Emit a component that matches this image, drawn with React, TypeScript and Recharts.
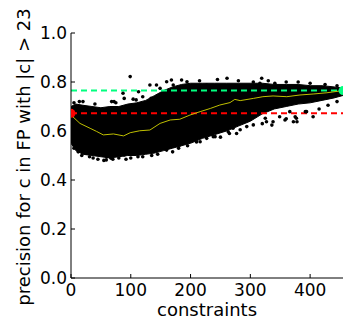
import React from 'react';
import { ComposedChart, Area, Line, Scatter, XAxis, YAxis, ReferenceLine } from 'recharts';

// axis ticks
const xTicks = [0, 100, 200, 300, 400];
const yTicks = [0, 0.2, 0.4, 0.6, 0.8, 1.0];

// dense cloud of points: lower / upper envelope per constraint count
const bandX = [0, 8, 20, 35, 50, 65, 80, 95, 110, 125, 140, 155, 170, 185, 200, 220, 240, 260, 280, 300, 320, 340, 360, 380, 400, 420, 440, 455];
const bandLow = [0.55, 0.52, 0.505, 0.5, 0.495, 0.49, 0.495, 0.5, 0.5, 0.505, 0.51, 0.52, 0.53, 0.54, 0.55, 0.57, 0.585, 0.6, 0.62, 0.64, 0.67, 0.69, 0.7, 0.71, 0.715, 0.725, 0.735, 0.745];
const bandHigh = [0.7, 0.71, 0.705, 0.7, 0.695, 0.7, 0.7, 0.71, 0.715, 0.725, 0.745, 0.765, 0.78, 0.79, 0.795, 0.795, 0.795, 0.795, 0.795, 0.795, 0.795, 0.79, 0.79, 0.79, 0.785, 0.785, 0.78, 0.775];

// scattered points outside the dense cloud
const dotX = [5, 12, 18, 26, 37, 45, 55, 60, 70, 80, 92, 100, 110, 120, 135, 145, 160, 170, 180, 195, 210, 227, 241, 250, 265, 271, 283, 294, 305, 320, 327, 336, 338, 349, 360, 372, 377, 394, 405, 415, 430, 445,
  5, 20, 40, 68, 75, 87, 99, 104, 113, 120, 132, 143, 149, 160, 168, 185, 194, 215, 227, 245, 261, 280, 305, 319, 330, 341, 360, 380, 400, 425, 445,
  31, 59, 67, 89, 112, 159, 14, 72, 89, 109, 134, 153, 171, 182, 216, 238, 263, 277, 325, 358, 366, 375, 378, 392, 316];
const dotY = [0.53, 0.515, 0.5, 0.509, 0.49, 0.485, 0.48, 0.495, 0.485, 0.49, 0.485, 0.49, 0.509, 0.495, 0.5, 0.505, 0.522, 0.515, 0.53, 0.54, 0.555, 0.57, 0.577, 0.575, 0.59, 0.611, 0.605, 0.618, 0.625, 0.63, 0.638, 0.624, 0.638, 0.658, 0.65, 0.638, 0.652, 0.679, 0.658, 0.69, 0.705, 0.72,
  0.715, 0.72, 0.71, 0.72, 0.715, 0.754, 0.822, 0.73, 0.76, 0.74, 0.788, 0.788, 0.774, 0.801, 0.808, 0.808, 0.801, 0.805, 0.788, 0.81, 0.815, 0.805, 0.8, 0.815, 0.805, 0.795, 0.8, 0.8, 0.795, 0.79, 0.785,
  0.495, 0.482, 0.489, 0.502, 0.495, 0.529, 0.72, 0.72, 0.733, 0.727, 0.733, 0.72, 0.788, 0.543, 0.556, 0.577, 0.597, 0.59, 0.652, 0.645, 0.679, 0.658, 0.638, 0.679, 0.795];

// running mean (yellow)
const meanX = [0, 15, 32, 43, 54, 71, 88, 99, 115, 132, 149, 166, 182, 199, 216, 233, 249, 266, 274, 283, 305, 321, 338, 361, 383, 405, 428, 455];
const meanY = [0.665, 0.631, 0.611, 0.598, 0.584, 0.588, 0.58, 0.593, 0.601, 0.604, 0.631, 0.645, 0.648, 0.665, 0.679, 0.692, 0.706, 0.716, 0.729, 0.724, 0.733, 0.74, 0.743, 0.74, 0.747, 0.751, 0.756, 0.765];

const firstValue = 0.672;
const lastValue = 0.765;
const maxX = 455;

const bandData = bandX.map((x, i) => ({ x, band: [bandLow[i], bandHigh[i]] }));
const dotData = dotX.map((x, i) => ({ x, y: dotY[i] }));
const meanData = meanX.map((x, i) => ({ x, y: meanY[i] }));
const firstData = [{ x: 0, y: firstValue }];
const lastData = [{ x: maxX, y: lastValue }];

const tickStyle = { fill: '#000', fontSize: 17, fontFamily: 'DejaVu Sans' };

const YLabel = () => (
  <text x={30} y={157} transform="rotate(-90, 30, 157)" textAnchor="middle" fontSize={18} fontFamily="DejaVu Sans" fill="#000">
    precision for c in FP with |c| &gt; 23
  </text>
);

// end markers are cut by the axes frame, so only the inner half shows
const rightHalf = (color: string) => (p: any) => (
  <path d={`M${p.cx},${p.cy - 4.5} A4.5,4.5 0 0 1 ${p.cx},${p.cy + 4.5} Z`} fill={color} />
);
const leftHalf = (color: string) => (p: any) => (
  <path d={`M${p.cx},${p.cy - 4.5} A4.5,4.5 0 0 0 ${p.cx},${p.cy + 4.5} Z`} fill={color} />
);

export default function App() {
  return (
    <div style={{ position: 'absolute', left: 0, top: 0, width: 344, height: 324, background: '#fff' }}>
      <ComposedChart width={344} height={324} margin={{ top: 33, right: 1, bottom: 0, left: 0 }}>
        <XAxis
          dataKey="x"
          type="number"
          domain={[0, maxX]}
          ticks={xTicks}
          allowDataOverflow
          height={46}
          tickSize={-4}
          tickMargin={10}
          tick={tickStyle}
          stroke="#000"
          tickLine={{ stroke: '#000' }}
          label={{ value: 'constraints', position: 'insideBottom', offset: 8, fontSize: 18, fontFamily: 'DejaVu Sans', fill: '#000' }}
        />
        <XAxis xAxisId="top" orientation="top" type="number" domain={[0, maxX]} ticks={xTicks} height={0} tickSize={-4} tick={false} stroke="#000" />
        <YAxis
          dataKey="y"
          type="number"
          domain={[0, 1]}
          ticks={yTicks}
          allowDataOverflow
          width={71}
          tickSize={-4}
          tickMargin={8}
          tick={tickStyle}
          tickFormatter={(v: number) => v.toFixed(1)}
          stroke="#000"
          label={{ content: () => <YLabel /> }}
        />
        <YAxis yAxisId="right" orientation="right" type="number" domain={[0, 1]} ticks={yTicks} width={0} tickSize={-4} tick={false} stroke="#000" />
        <Area data={bandData} dataKey="band" type="linear" stroke="#000" strokeWidth={1} fill="#000" fillOpacity={1} isAnimationActive={false} />
        <Scatter data={dotData} isAnimationActive={false} shape={(p: any) => <circle cx={p.cx} cy={p.cy} r={1.8} fill="#000" />} />
        <ReferenceLine y={lastValue} stroke="#00ff7f" strokeWidth={2} strokeDasharray="6 4" />
        <ReferenceLine y={firstValue} stroke="#ff0000" strokeWidth={2} strokeDasharray="6 4" />
        <Line data={meanData} dataKey="y" type="linear" stroke="#bfbf00" strokeWidth={1} dot={false} isAnimationActive={false} />
        <Scatter data={firstData} isAnimationActive={false} shape={rightHalf('#ff0000')} />
        <Scatter data={lastData} isAnimationActive={false} shape={leftHalf('#00ff7f')} />
      </ComposedChart>
    </div>
  );
}
